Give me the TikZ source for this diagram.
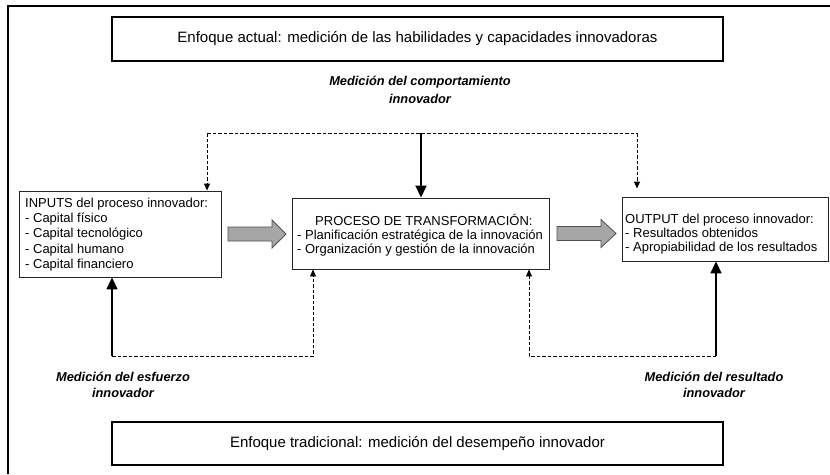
\documentclass[tikz,border=0pt]{standalone}
\usepackage{fontspec}
\setmainfont{Liberation Sans}
\usetikzlibrary{arrows.meta}
\definecolor{arrowgrey}{RGB}{166,166,166}
\definecolor{arrowedge}{RGB}{80,80,80}
\begin{document}
\begin{tikzpicture}[x=1pt,y=-1pt,
  bigbox/.style={draw=black, line width=1.4pt, inner sep=0pt, minimum width=611pt, minimum height=44pt, font=\fontsize{15}{18}\selectfont},
  procbox/.style={draw=black!85, line width=0.9pt, inner sep=0pt},
  boxtxt/.style={inner sep=0pt, anchor=west, align=left},
  lbl/.style={inner sep=0pt, align=center, font=\fontsize{12.8}{17.5}\selectfont\bfseries\itshape},
  lblb/.style={inner sep=0pt, align=center, font=\fontsize{12.8}{16.5}\selectfont\bfseries\itshape},
  solidarrow/.style={line width=1.9pt, -{Triangle[width=11pt,length=12pt]}},
  dasharrow/.style={line width=0.9pt, dash pattern=on 3.5pt off 2pt, -{Triangle[width=6pt,length=7pt]}},
  dashline/.style={line width=0.9pt, dash pattern=on 3.5pt off 2pt},
  greyarrow/.style={fill=arrowgrey, draw=arrowedge, line width=0.8pt, line join=miter}
]
\useasboundingbox (0,0) rectangle (830,474);
% outer frame (only left and top edges are visible)
\draw[line width=1.2pt] (8,474) -- (8,6) -- (830,6);

% top and bottom boxes
\node[bigbox] (top) at (417.5,39) {Enfoque actual: medición de las habilidades y capacidades innovadoras};
\node[bigbox, minimum height=43pt] (bot) at (417.5,443.5) {Enfoque tradicional: medición del desempeño innovador};

% process boxes
\node[procbox, minimum width=202pt, minimum height=86pt] (inp) at (120,234) {};
\node[procbox, minimum width=257pt, minimum height=71pt] (proc) at (420.5,233.5) {};
\node[procbox, minimum width=206pt, minimum height=64pt] (out) at (725,229) {};

\node[boxtxt, font=\fontsize{13}{15.25}\selectfont] (inptxt) at (25,234.5)
  {INPUTS del proceso innovador:\\- Capital físico\\- Capital tecnológico\\- Capital humano\\- Capital financiero};
\node[boxtxt, font=\fontsize{13}{14}\selectfont] (proctxt) at (297,235)
  {\hspace*{18pt}PROCESO DE TRANSFORMACIÓN:\\- Planificación estratégica de la innovación\\- Organización y gestión de la innovación};
\node[boxtxt, font=\fontsize{13}{14}\selectfont] (outtxt) at (625,234)
  {OUTPUT del proceso innovador:\\- Resultados obtenidos\\- Apropiabilidad de los resultados};

% labels
\node[lbl] (lcomp) at (420,90) {Medición del comportamiento\\innovador};
\node[lblb] (lesf) at (123,385) {Medición del esfuerzo\\innovador};
\node[lblb] (lres) at (714,385) {Medición del resultado\\innovador};

% big grey arrows
\draw[greyarrow] (228,227) -- (272,227) -- (272,220) -- (286,234) -- (272,248) -- (272,241) -- (228,241) -- cycle;
\draw[greyarrow] (557,226.5) -- (601,226.5) -- (601,219.5) -- (616,233.5) -- (601,247.5) -- (601,240.5) -- (557,240.5) -- cycle;

% top connectors
\coordinate (tl) at (207,133);
\coordinate (tm) at (421,133);
\coordinate (tr) at (637,133);
\draw[dashline] (tl) -- (tr);
\draw[dasharrow] (tl) -- (inp.north -| tl);
\draw[dasharrow, shorten >=8pt] (tr) -- (out.north -| tr);
\draw[solidarrow] (tm) -- (proc.north -| tm);

% bottom connectors
\coordinate (bl) at (112,356);
\coordinate (blr) at (313,356);
\coordinate (br) at (716,356);
\coordinate (brl) at (529,356);
\draw[dasharrow] (bl) -- (blr) -- (proc.south -| blr);
\draw[dasharrow] (br) -- (brl) -- (proc.south -| brl);
\draw[solidarrow] (bl) -- (inp.south -| bl);
\draw[solidarrow] (br) -- (out.south -| br);
\end{tikzpicture}
\end{document}
